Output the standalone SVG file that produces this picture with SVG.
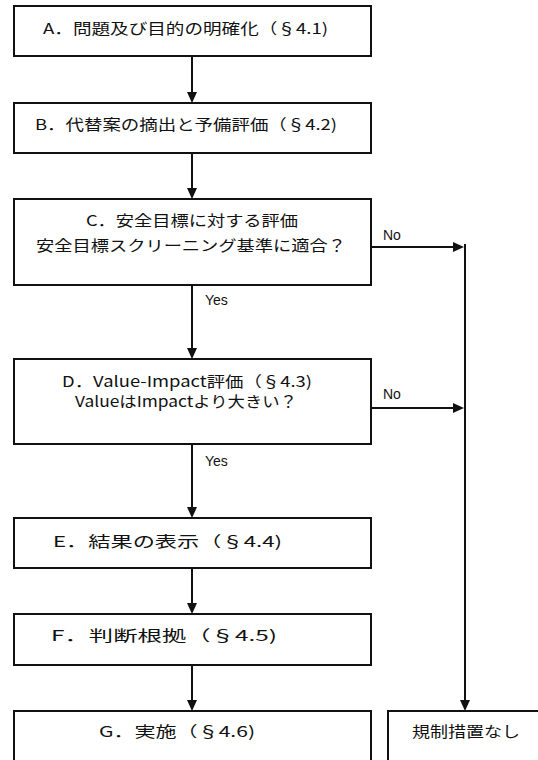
<svg xmlns="http://www.w3.org/2000/svg" width="538" height="760" viewBox="0 0 538 760">
<defs>
<style>
.box{fill:#fff;stroke:#111;stroke-width:2}
.t{font-family:"Noto Sans CJK JP","Noto Sans",sans-serif;font-size:15px;fill:#111}
.l{font-family:"Liberation Sans","Noto Sans CJK JP",sans-serif;font-size:14px;fill:#111}
.c{fill:none;stroke:#111;stroke-width:2}
</style>
<marker id="ah" markerUnits="userSpaceOnUse" markerWidth="12" markerHeight="12" viewBox="0 0 12 12" refX="2" refY="6" orient="auto">
<path d="M0,1 L11,6 L0,11 z" fill="#111"/>
</marker>
</defs>
<rect width="538" height="760" fill="#fff"/>
<g id="A"><rect class="box" x="14" y="6" width="357" height="50"/><text class="t" x="43" y="34" textLength="285" lengthAdjust="spacingAndGlyphs">A．問題及び目的の明確化（§4.1)</text></g>
<g id="B"><rect class="box" x="14" y="103" width="357" height="50"/><text class="t" x="35" y="130" textLength="302" lengthAdjust="spacingAndGlyphs">B．代替案の摘出と予備評価（§4.2)</text></g>
<g id="C"><rect class="box" x="14" y="199" width="357" height="86"/><text class="t" x="86" y="226" textLength="212" lengthAdjust="spacingAndGlyphs">C．安全目標に対する評価</text><text class="t" x="36" y="251" textLength="310" lengthAdjust="spacingAndGlyphs">安全目標スクリーニング基準に適合？</text></g>
<g id="D"><rect class="box" x="14" y="359" width="357" height="85"/><text class="t" x="62" y="387" textLength="250" lengthAdjust="spacingAndGlyphs">D．Value-Impact評価（§4.3)</text><text class="t" x="75" y="407" textLength="222" lengthAdjust="spacingAndGlyphs">ValueはImpactより大きい？</text></g>
<g id="E"><rect class="box" x="14" y="518" width="357" height="50"/><text class="t" x="53" y="547" textLength="229" lengthAdjust="spacingAndGlyphs">E．結果の表示（§4.4)</text></g>
<g id="F"><rect class="box" x="14" y="614" width="357" height="51"/><text class="t" x="51" y="641" textLength="226" lengthAdjust="spacingAndGlyphs">F．判断根拠（§4.5)</text></g>
<g id="G"><rect class="box" x="14" y="711" width="357" height="70"/><text class="t" x="99" y="737" textLength="156" lengthAdjust="spacingAndGlyphs">G．実施（§4.6)</text></g>
<g id="N"><rect class="box" x="388" y="711" width="170" height="70"/><text class="t" x="412" y="737" textLength="108" lengthAdjust="spacingAndGlyphs">規制措置なし</text></g>
<g id="connectors">
<line class="c" x1="192" y1="56" x2="192" y2="94" marker-end="url(#ah)"/>
<line class="c" x1="192" y1="153" x2="192" y2="190" marker-end="url(#ah)"/>
<line class="c" x1="192" y1="285" x2="192" y2="350" marker-end="url(#ah)"/>
<line class="c" x1="192" y1="444" x2="192" y2="509" marker-end="url(#ah)"/>
<line class="c" x1="192" y1="568" x2="192" y2="605" marker-end="url(#ah)"/>
<line class="c" x1="192" y1="665" x2="192" y2="702" marker-end="url(#ah)"/>
<line class="c" x1="371" y1="247" x2="455" y2="247" marker-end="url(#ah)"/>
<line class="c" x1="371" y1="408" x2="455" y2="408" marker-end="url(#ah)"/>
<line class="c" x1="465" y1="244" x2="465" y2="702" marker-end="url(#ah)"/>
<text class="l" x="383" y="240">No</text>
<text class="l" x="383" y="399">No</text>
<text class="l" x="205" y="305">Yes</text>
<text class="l" x="205" y="466">Yes</text>
</g>
</svg>
